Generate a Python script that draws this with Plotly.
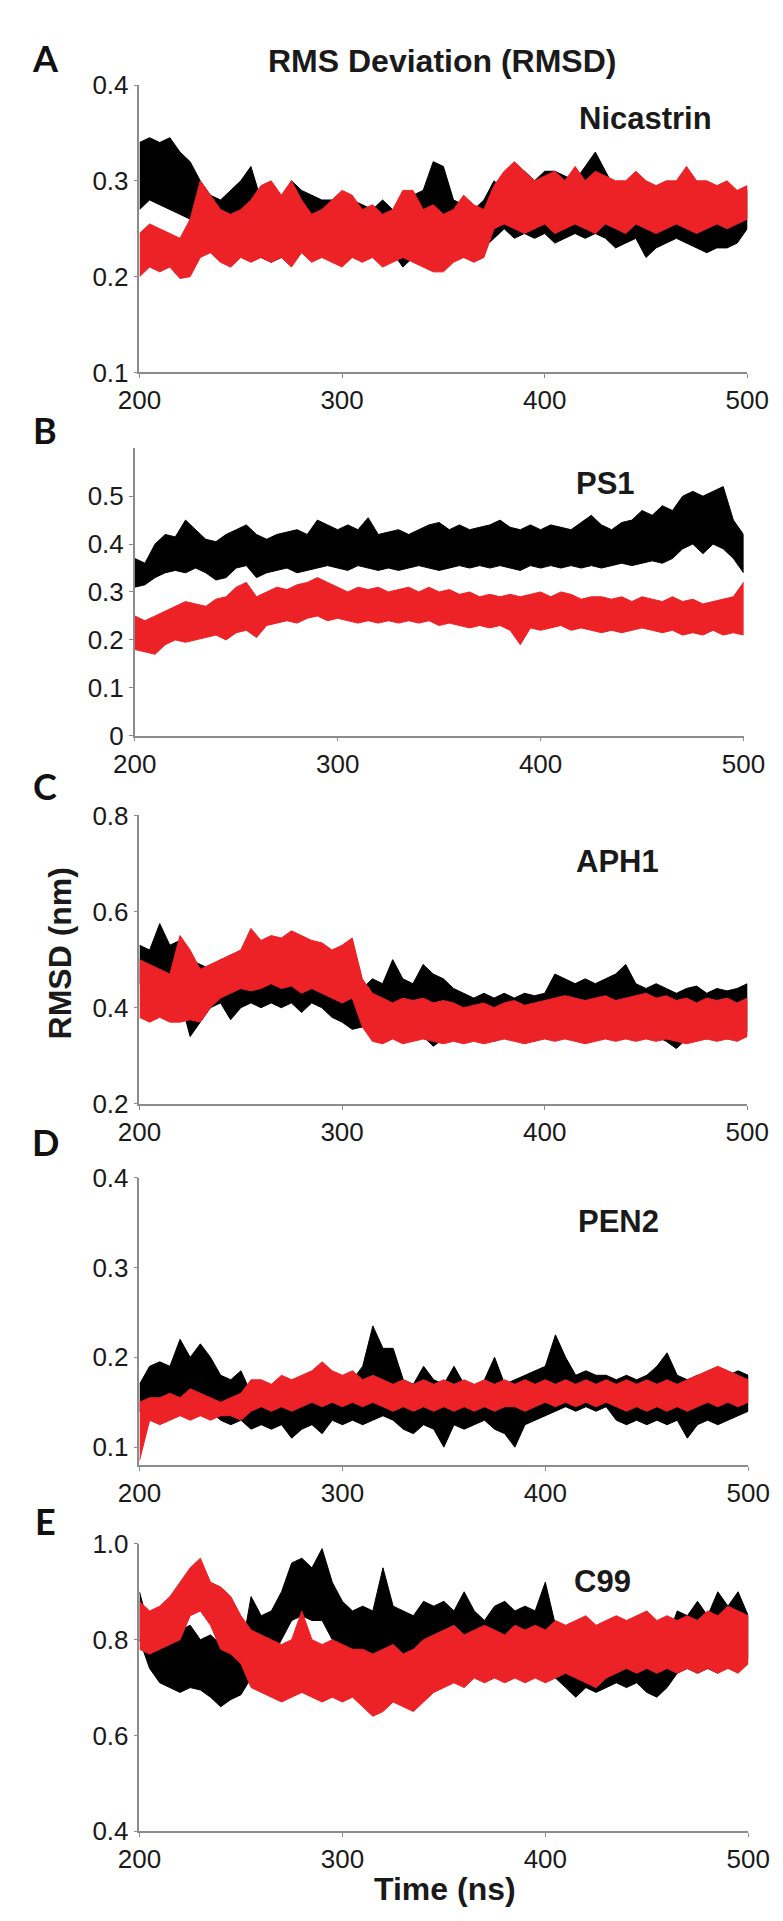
import plotly.graph_objects as go

# time base of the trajectories (ns)
TIME_NS = list(range(200, 505, 5))

# Each series is drawn as its noise band: low / high envelope per 5 ns
NIC_BLACK_LO = [0.27, 0.28, 0.275, 0.27, 0.265, 0.26, 0.245, 0.23, 0.225, 0.23,
                0.225, 0.235, 0.22, 0.215, 0.22, 0.225, 0.23, 0.22, 0.225, 0.22,
                0.215, 0.225, 0.22, 0.225, 0.22, 0.225, 0.21, 0.22, 0.22, 0.225,
                0.23, 0.225, 0.22, 0.225, 0.23, 0.24, 0.25, 0.24, 0.245, 0.24,
                0.245, 0.235, 0.24, 0.245, 0.24, 0.245, 0.24, 0.23, 0.235, 0.24,
                0.22, 0.23, 0.235, 0.24, 0.235, 0.23, 0.225, 0.23, 0.23, 0.235,
                0.25]
NIC_BLACK_HI = [0.34, 0.345, 0.34, 0.345, 0.33, 0.32, 0.30, 0.285, 0.28, 0.29,
                0.30, 0.315, 0.28, 0.29, 0.28, 0.30, 0.29, 0.285, 0.28, 0.28,
                0.275, 0.28, 0.275, 0.27, 0.28, 0.27, 0.28, 0.285, 0.29, 0.32,
                0.315, 0.28, 0.275, 0.27, 0.28, 0.30, 0.29, 0.30, 0.31, 0.30,
                0.31, 0.31, 0.305, 0.30, 0.315, 0.33, 0.31, 0.29, 0.285, 0.29,
                0.28, 0.28, 0.275, 0.285, 0.28, 0.275, 0.28, 0.275, 0.28, 0.285,
                0.29]
NIC_RED_LO = [0.20, 0.21, 0.205, 0.21, 0.198, 0.20, 0.22, 0.225, 0.215, 0.21,
              0.22, 0.215, 0.22, 0.215, 0.22, 0.21, 0.225, 0.215, 0.22, 0.215,
              0.21, 0.22, 0.215, 0.22, 0.21, 0.215, 0.22, 0.215, 0.21, 0.205,
              0.205, 0.215, 0.22, 0.215, 0.22, 0.25, 0.255, 0.25, 0.245, 0.25,
              0.255, 0.245, 0.25, 0.255, 0.25, 0.245, 0.255, 0.25, 0.245, 0.255,
              0.25, 0.245, 0.25, 0.255, 0.25, 0.245, 0.25, 0.255, 0.25, 0.255,
              0.26]
NIC_RED_HI = [0.245, 0.255, 0.25, 0.245, 0.24, 0.26, 0.30, 0.285, 0.27, 0.265,
              0.27, 0.28, 0.295, 0.30, 0.285, 0.30, 0.28, 0.265, 0.27, 0.28,
              0.29, 0.285, 0.27, 0.275, 0.265, 0.27, 0.29, 0.29, 0.27, 0.275,
              0.265, 0.27, 0.285, 0.275, 0.27, 0.295, 0.31, 0.32, 0.31, 0.30,
              0.305, 0.31, 0.30, 0.315, 0.30, 0.31, 0.305, 0.30, 0.30, 0.31,
              0.30, 0.295, 0.30, 0.30, 0.315, 0.30, 0.30, 0.295, 0.30, 0.29,
              0.295]

PS1_BLACK_LO = [0.31, 0.315, 0.33, 0.34, 0.345, 0.34, 0.35, 0.34, 0.325, 0.33,
                0.35, 0.355, 0.33, 0.34, 0.345, 0.35, 0.34, 0.345, 0.35, 0.355,
                0.35, 0.345, 0.355, 0.35, 0.345, 0.35, 0.345, 0.35, 0.355, 0.35,
                0.345, 0.35, 0.355, 0.35, 0.355, 0.35, 0.355, 0.35, 0.345, 0.355,
                0.35, 0.355, 0.35, 0.355, 0.35, 0.355, 0.35, 0.355, 0.36, 0.355,
                0.36, 0.365, 0.36, 0.37, 0.39, 0.40, 0.38, 0.40, 0.39, 0.37,
                0.34]
PS1_BLACK_HI = [0.37, 0.36, 0.40, 0.42, 0.415, 0.45, 0.43, 0.41, 0.405, 0.42,
                0.43, 0.44, 0.42, 0.41, 0.42, 0.425, 0.43, 0.42, 0.45, 0.44,
                0.43, 0.44, 0.43, 0.455, 0.42, 0.425, 0.43, 0.42, 0.43, 0.44,
                0.445, 0.43, 0.44, 0.43, 0.435, 0.44, 0.45, 0.435, 0.43, 0.44,
                0.43, 0.44, 0.435, 0.43, 0.445, 0.46, 0.44, 0.43, 0.445, 0.45,
                0.47, 0.46, 0.48, 0.47, 0.50, 0.51, 0.50, 0.51, 0.52, 0.45,
                0.42]
PS1_RED_LO = [0.18, 0.175, 0.17, 0.19, 0.20, 0.195, 0.20, 0.205, 0.21, 0.20,
              0.215, 0.22, 0.205, 0.23, 0.235, 0.24, 0.235, 0.245, 0.25, 0.24,
              0.245, 0.24, 0.235, 0.24, 0.235, 0.24, 0.235, 0.24, 0.235, 0.24,
              0.23, 0.235, 0.23, 0.225, 0.23, 0.225, 0.23, 0.22, 0.19, 0.225,
              0.22, 0.225, 0.23, 0.22, 0.225, 0.22, 0.215, 0.22, 0.215, 0.22,
              0.225, 0.22, 0.215, 0.22, 0.21, 0.215, 0.21, 0.22, 0.21, 0.215,
              0.21]
PS1_RED_HI = [0.25, 0.24, 0.25, 0.26, 0.27, 0.28, 0.275, 0.27, 0.285, 0.29,
              0.31, 0.32, 0.29, 0.30, 0.31, 0.305, 0.315, 0.32, 0.33, 0.32,
              0.31, 0.30, 0.31, 0.305, 0.31, 0.30, 0.305, 0.31, 0.30, 0.31,
              0.30, 0.305, 0.295, 0.30, 0.29, 0.295, 0.29, 0.295, 0.29, 0.295,
              0.30, 0.29, 0.30, 0.295, 0.285, 0.29, 0.29, 0.285, 0.29, 0.28,
              0.29, 0.285, 0.28, 0.29, 0.28, 0.285, 0.275, 0.28, 0.285, 0.29,
              0.32]

APH1_BLACK_LO = [0.45, 0.46, 0.45, 0.44, 0.42, 0.34, 0.37, 0.40, 0.41, 0.375,
                 0.40, 0.41, 0.40, 0.41, 0.40, 0.41, 0.39, 0.41, 0.40, 0.38,
                 0.37, 0.355, 0.36, 0.35, 0.34, 0.35, 0.34, 0.35, 0.34, 0.32,
                 0.335, 0.34, 0.33, 0.34, 0.335, 0.33, 0.34, 0.335, 0.34, 0.33,
                 0.345, 0.34, 0.35, 0.345, 0.35, 0.34, 0.345, 0.34, 0.345, 0.34,
                 0.345, 0.34, 0.33, 0.315, 0.335, 0.34, 0.335, 0.34, 0.335, 0.34,
                 0.35]
APH1_BLACK_HI = [0.53, 0.52, 0.575, 0.53, 0.54, 0.50, 0.49, 0.48, 0.50, 0.50,
                 0.51, 0.52, 0.52, 0.53, 0.52, 0.51, 0.52, 0.51, 0.50, 0.48,
                 0.49, 0.47, 0.44, 0.46, 0.45, 0.50, 0.46, 0.45, 0.49, 0.47,
                 0.46, 0.44, 0.43, 0.42, 0.43, 0.42, 0.43, 0.42, 0.43, 0.425,
                 0.43, 0.47, 0.46, 0.45, 0.46, 0.45, 0.46, 0.47, 0.49, 0.45,
                 0.44, 0.45, 0.44, 0.43, 0.44, 0.445, 0.43, 0.44, 0.435, 0.44,
                 0.45]
APH1_RED_LO = [0.38, 0.37, 0.38, 0.37, 0.37, 0.375, 0.37, 0.40, 0.42, 0.43,
               0.44, 0.435, 0.44, 0.45, 0.44, 0.445, 0.43, 0.44, 0.43, 0.42,
               0.41, 0.42, 0.36, 0.33, 0.325, 0.335, 0.325, 0.33, 0.335, 0.33,
               0.325, 0.33, 0.325, 0.33, 0.325, 0.33, 0.335, 0.33, 0.325, 0.33,
               0.335, 0.33, 0.335, 0.33, 0.325, 0.33, 0.335, 0.33, 0.335, 0.33,
               0.335, 0.33, 0.335, 0.33, 0.325, 0.33, 0.335, 0.33, 0.335, 0.33,
               0.34]
APH1_RED_HI = [0.50, 0.49, 0.48, 0.47, 0.55, 0.52, 0.48, 0.49, 0.50, 0.51,
               0.52, 0.565, 0.54, 0.55, 0.545, 0.56, 0.55, 0.54, 0.535, 0.52,
               0.53, 0.545, 0.46, 0.43, 0.42, 0.41, 0.42, 0.415, 0.42, 0.41,
               0.415, 0.41, 0.40, 0.405, 0.41, 0.40, 0.41, 0.415, 0.405, 0.41,
               0.415, 0.42, 0.425, 0.42, 0.415, 0.42, 0.425, 0.415, 0.42, 0.425,
               0.43, 0.42, 0.425, 0.415, 0.42, 0.41, 0.42, 0.415, 0.42, 0.41,
               0.42]

PEN2_BLACK_LO = [0.14, 0.15, 0.155, 0.15, 0.145, 0.15, 0.145, 0.14, 0.13, 0.125,
                 0.13, 0.12, 0.125, 0.12, 0.125, 0.11, 0.12, 0.125, 0.115, 0.13,
                 0.125, 0.13, 0.125, 0.13, 0.135, 0.13, 0.12, 0.115, 0.125, 0.12,
                 0.10, 0.125, 0.12, 0.125, 0.13, 0.12, 0.115, 0.10, 0.125, 0.13,
                 0.135, 0.14, 0.145, 0.14, 0.145, 0.14, 0.145, 0.13, 0.125, 0.13,
                 0.125, 0.13, 0.125, 0.13, 0.11, 0.125, 0.13, 0.125, 0.13, 0.135,
                 0.14]
PEN2_BLACK_HI = [0.17, 0.19, 0.195, 0.19, 0.22, 0.20, 0.215, 0.20, 0.18, 0.175,
                 0.185, 0.16, 0.16, 0.16, 0.155, 0.16, 0.16, 0.165, 0.16, 0.165,
                 0.17, 0.175, 0.19, 0.235, 0.21, 0.21, 0.175, 0.17, 0.19, 0.175,
                 0.17, 0.19, 0.17, 0.165, 0.175, 0.20, 0.17, 0.175, 0.18, 0.185,
                 0.19, 0.225, 0.20, 0.18, 0.185, 0.18, 0.18, 0.175, 0.18, 0.175,
                 0.18, 0.19, 0.205, 0.18, 0.175, 0.18, 0.175, 0.185, 0.18, 0.185,
                 0.18]
PEN2_RED_LO = [0.085, 0.13, 0.125, 0.13, 0.135, 0.13, 0.135, 0.13, 0.135, 0.135,
               0.13, 0.14, 0.145, 0.14, 0.145, 0.14, 0.145, 0.15, 0.145, 0.15,
               0.145, 0.15, 0.145, 0.15, 0.145, 0.14, 0.145, 0.14, 0.145, 0.14,
               0.145, 0.14, 0.145, 0.14, 0.145, 0.14, 0.145, 0.145, 0.14, 0.145,
               0.15, 0.145, 0.15, 0.145, 0.15, 0.145, 0.15, 0.145, 0.14, 0.145,
               0.14, 0.145, 0.14, 0.145, 0.14, 0.145, 0.15, 0.145, 0.15, 0.145,
               0.15]
PEN2_RED_HI = [0.15, 0.155, 0.155, 0.16, 0.155, 0.165, 0.16, 0.155, 0.15, 0.155,
               0.16, 0.175, 0.175, 0.17, 0.18, 0.175, 0.18, 0.185, 0.195, 0.185,
               0.18, 0.185, 0.175, 0.18, 0.175, 0.17, 0.175, 0.17, 0.175, 0.17,
               0.175, 0.17, 0.175, 0.17, 0.175, 0.17, 0.175, 0.17, 0.175, 0.17,
               0.175, 0.17, 0.175, 0.17, 0.175, 0.17, 0.175, 0.17, 0.175, 0.17,
               0.175, 0.17, 0.175, 0.17, 0.175, 0.18, 0.185, 0.19, 0.185, 0.18,
               0.175]

C99_BLACK_LO = [0.80, 0.74, 0.71, 0.70, 0.69, 0.70, 0.695, 0.68, 0.66, 0.675,
                0.685, 0.72, 0.74, 0.76, 0.80, 0.84, 0.85, 0.84, 0.84, 0.80,
                0.78, 0.76, 0.76, 0.75, 0.76, 0.75, 0.73, 0.74, 0.75, 0.74,
                0.75, 0.74, 0.75, 0.74, 0.73, 0.74, 0.75, 0.74, 0.73, 0.74,
                0.73, 0.72, 0.70, 0.68, 0.70, 0.69, 0.70, 0.71, 0.70, 0.71,
                0.69, 0.68, 0.70, 0.73, 0.74, 0.73, 0.74, 0.73, 0.75, 0.74,
                0.76]
C99_BLACK_HI = [0.90, 0.82, 0.80, 0.80, 0.82, 0.83, 0.80, 0.81, 0.79, 0.80,
                0.77, 0.89, 0.85, 0.86, 0.90, 0.96, 0.97, 0.95, 0.99, 0.92,
                0.88, 0.86, 0.87, 0.86, 0.95, 0.87, 0.86, 0.85, 0.88, 0.87,
                0.88, 0.86, 0.90, 0.86, 0.84, 0.87, 0.88, 0.86, 0.87, 0.86,
                0.92, 0.83, 0.80, 0.79, 0.78, 0.78, 0.77, 0.78, 0.77, 0.79,
                0.78, 0.77, 0.80, 0.86, 0.85, 0.88, 0.85, 0.90, 0.87, 0.90,
                0.85]
C99_RED_LO = [0.78, 0.77, 0.78, 0.79, 0.80, 0.85, 0.86, 0.83, 0.78, 0.77,
              0.75, 0.70, 0.69, 0.68, 0.67, 0.68, 0.69, 0.68, 0.67, 0.68,
              0.67, 0.68, 0.66, 0.64, 0.65, 0.67, 0.66, 0.65, 0.67, 0.69,
              0.70, 0.71, 0.70, 0.72, 0.71, 0.72, 0.71, 0.72, 0.71, 0.72,
              0.71, 0.72, 0.73, 0.72, 0.71, 0.70, 0.72, 0.73, 0.74, 0.73,
              0.74, 0.73, 0.74, 0.73, 0.74, 0.73, 0.74, 0.73, 0.74, 0.73,
              0.75]
C99_RED_HI = [0.88, 0.86, 0.87, 0.89, 0.92, 0.95, 0.97, 0.92, 0.91, 0.89,
              0.85, 0.82, 0.81, 0.80, 0.79, 0.80, 0.86, 0.80, 0.79, 0.80,
              0.79, 0.78, 0.78, 0.77, 0.78, 0.79, 0.77, 0.78, 0.80, 0.81,
              0.82, 0.83, 0.81, 0.82, 0.83, 0.82, 0.81, 0.83, 0.82, 0.83,
              0.82, 0.84, 0.83, 0.84, 0.85, 0.83, 0.84, 0.85, 0.84, 0.85,
              0.86, 0.84, 0.85, 0.84, 0.85, 0.84, 0.86, 0.85, 0.87, 0.86,
              0.85]

PANEL_NAMES = ["Nicastrin", "PS1", "APH1", "PEN2", "C99"]
PANEL_LETTERS = ["A", "B", "C", "D", "E"]
Y_RANGES = [[0.1, 0.4], [0.0, 0.6], [0.2, 0.8], [0.08, 0.4], [0.4, 1.0]]
Y_TICKS = [[0.1, 0.2, 0.3, 0.4], [0, 0.1, 0.2, 0.3, 0.4, 0.5],
           [0.2, 0.4, 0.6, 0.8], [0.1, 0.2, 0.3, 0.4], [0.4, 0.6, 0.8, 1.0]]
Y_TICKTEXT = [["0.1", "0.2", "0.3", "0.4"], ["0", "0.1", "0.2", "0.3", "0.4", "0.5"],
              ["0.2", "0.4", "0.6", "0.8"], ["0.1", "0.2", "0.3", "0.4"],
              ["0.4", "0.6", "0.8", "1.0"]]
X_TICKS = [200, 300, 400, 500]

series = [
    (NIC_BLACK_LO, NIC_BLACK_HI, NIC_RED_LO, NIC_RED_HI),
    (PS1_BLACK_LO, PS1_BLACK_HI, PS1_RED_LO, PS1_RED_HI),
    (APH1_BLACK_LO, APH1_BLACK_HI, APH1_RED_LO, APH1_RED_HI),
    (PEN2_BLACK_LO, PEN2_BLACK_HI, PEN2_RED_LO, PEN2_RED_HI),
    (C99_BLACK_LO, C99_BLACK_HI, C99_RED_LO, C99_RED_HI),
]

W, H = 783, 1921
FONT = "'Liberation Sans', Arial, Helvetica, sans-serif"
BLACK = "#000000"
RED = "#ec2226"
AXIS_GREY = "#8c8c8c"

# pixel layout of each panel: (top px, bottom px, left px, right px)
panel_px = [(63, 355, 116, 760), (432, 724, 111, 756), (805, 1098, 116, 760),
            (1173, 1465, 116, 761), (1545, 1837, 116, 761)]
letter_y = [36, 413, 775, 1137, 1522]
name_xy = [(652, 97), (610, 468), (623, 852), (624, 1218), (607, 1583)]


def px_x(p):
    return p / W


def px_y(p):
    return 1 - p / H


fig = go.Figure()
layout = dict(width=W, height=H, margin=dict(l=0, r=0, t=0, b=0),
              paper_bgcolor="white", plot_bgcolor="white", showlegend=False,
              font=dict(family=FONT, color="#1a1a1a"))

annotations = []
for i, (blo, bhi, rlo, rhi) in enumerate(series):
    n = "" if i == 0 else str(i + 1)
    top, bot, left, right = panel_px[i]
    # black run first, red run drawn over it
    for lo, hi, col in [(blo, bhi, BLACK), (rlo, rhi, RED)]:
        fig.add_trace(go.Scatter(
            x=TIME_NS + TIME_NS[::-1], y=hi + lo[::-1],
            fill="toself", fillcolor=col, mode="lines",
            line=dict(color=col, width=1), hoverinfo="skip",
            xaxis="x" + n, yaxis="y" + n))
    layout["xaxis" + n] = dict(
        domain=[px_x(left), px_x(right)], range=[200, 500], anchor="y" + n,
        tickvals=X_TICKS, ticks="outside", ticklen=4, tickcolor=AXIS_GREY,
        showline=True, linecolor=AXIS_GREY, linewidth=1.5, showgrid=False,
        zeroline=False, tickfont=dict(size=26, color="#1a1a1a"))
    layout["yaxis" + n] = dict(
        domain=[px_y(bot), px_y(top)], range=Y_RANGES[i], anchor="x" + n,
        tickvals=Y_TICKS[i], ticktext=Y_TICKTEXT[i], ticks="outside",
        ticklen=4, tickcolor=AXIS_GREY, showline=True, linecolor=AXIS_GREY,
        linewidth=1.5, showgrid=False, zeroline=False,
        tickfont=dict(size=26, color="#1a1a1a"))
    annotations.append(dict(
        text="<b>%s</b>" % PANEL_LETTERS[i], x=px_x(16), y=px_y(letter_y[i]),
        xref="paper", yref="paper", showarrow=False, xanchor="center",
        yanchor="middle",
        font=dict(family="Lato, " + FONT, size=36, weight=900, color="#111")))
    annotations.append(dict(
        text="<b>%s</b>" % PANEL_NAMES[i], x=px_x(name_xy[i][0]),
        y=px_y(name_xy[i][1]), xref="paper", yref="paper", showarrow=False,
        xanchor="center", yanchor="middle", font=dict(size=31, color="#1a1a1a")))

annotations.append(dict(
    text="<b>RMS Deviation (RMSD)</b>", x=px_x(437), y=px_y(39),
    xref="paper", yref="paper", showarrow=False, xanchor="center",
    yanchor="middle", font=dict(size=32, color="#1a1a1a")))
annotations.append(dict(
    text="<b>RMSD (nm)</b>", x=px_x(32), y=px_y(945), textangle=-90,
    xref="paper", yref="paper", showarrow=False, xanchor="center",
    yanchor="middle", font=dict(size=32, color="#1a1a1a")))
annotations.append(dict(
    text="<b>Time (ns)</b>", x=px_x(440), y=px_y(1896),
    xref="paper", yref="paper", showarrow=False, xanchor="center",
    yanchor="middle", font=dict(size=32, color="#1a1a1a")))

layout["annotations"] = annotations
fig.update_layout(**layout)
fig.write_html("out.html")
